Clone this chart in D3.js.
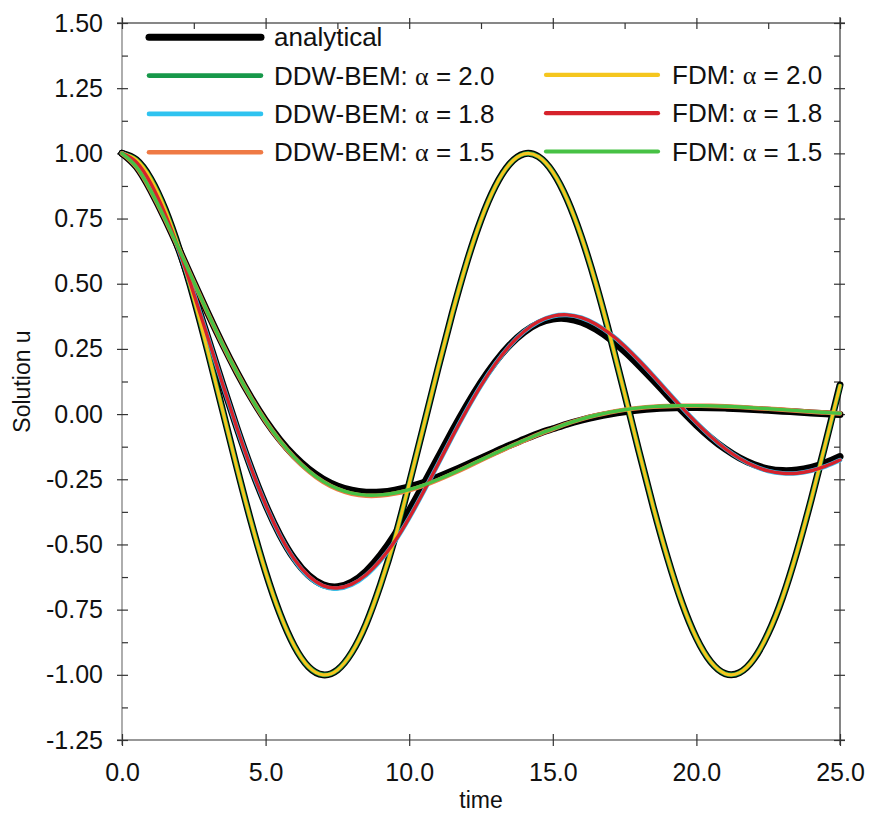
<!DOCTYPE html>
<html><head><meta charset="utf-8">
<script src="https://cdn.jsdelivr.net/npm/d3@7"></script>
<style>
body{margin:0;background:#fff}
svg{display:block}
text{font-family:"Liberation Sans",Arial,Helvetica,sans-serif;fill:#111}
</style>
</head><body>
<svg id="chart" width="869" height="819"></svg>
<script>
// ---- data ----
const times = [0,0.5,1,1.5,2,2.5,3,3.5,4,4.5,5,5.5,6,6.5,7,7.5,8,8.5,9,9.5,10,10.5,11,11.5,12,12.5,13,13.5,14,14.5,15,15.5,16,16.5,17,17.5,18,18.5,19,19.5,20,20.5,21,21.5,22,22.5,23,23.5,24,24.5,25];

const analytical20 = [1,0.9755,0.9029,0.7860,0.6305,0.4444,0.2357,0.0157,-0.2049,-0.4156,-0.6053,-0.7658,-0.8897,-0.9697,-0.9999,-0.9813,-0.9143,-0.8043,-0.6543,-0.4764,-0.2666,-0.0472,0.1740,0.3869,0.5806,0.7456,0.8740,0.9596,0.9980,0.9874,0.9282,0.8234,0.6780,0.4999,0.2963,0.0786,-0.1427,-0.3574,-0.5539,-0.7245,-0.8588,-0.9503,-0.9955,-0.9918,-0.9394,-0.8409,-0.7034,-0.5282,-0.3270,-0.1100,0.1117];
const analytical18 = [1,0.9664,0.8852,0.7680,0.6240,0.4617,0.2898,0.1160,-0.0524,-0.2086,-0.3474,-0.4639,-0.5551,-0.6189,-0.6546,-0.6626,-0.6445,-0.6026,-0.5402,-0.4611,-0.3696,-0.2697,-0.1670,-0.0645,0.0330,0.1224,0.2004,0.2650,0.3144,0.3478,0.3646,0.3658,0.3522,0.3253,0.2872,0.2401,0.1862,0.1291,0.0701,0.0123,-0.0422,-0.0915,-0.1338,-0.1680,-0.1935,-0.2099,-0.2167,-0.2146,-0.2042,-0.1863,-0.1628];
const analytical15 = [1,0.9483,0.8579,0.7482,0.6288,0.5059,0.3846,0.2685,0.1604,0.0624,-0.0244,-0.0988,-0.1609,-0.2107,-0.2486,-0.2754,-0.2920,-0.2995,-0.2989,-0.2916,-0.2788,-0.2622,-0.2415,-0.2184,-0.1938,-0.1687,-0.1438,-0.1194,-0.0969,-0.0748,-0.0563,-0.0382,-0.0230,-0.0101,0.0006,0.0092,0.0159,0.0207,0.0235,0.0251,0.0254,0.0247,0.0230,0.0207,0.0178,0.0147,0.0113,0.0078,0.0044,0.0012,-0.0019];

const ddw20 = [1,0.9755,0.9029,0.7860,0.6305,0.4444,0.2357,0.0157,-0.2049,-0.4156,-0.6053,-0.7658,-0.8897,-0.9697,-0.9999,-0.9813,-0.9143,-0.8043,-0.6543,-0.4764,-0.2666,-0.0472,0.1740,0.3869,0.5806,0.7456,0.8740,0.9596,0.9980,0.9874,0.9282,0.8234,0.6780,0.4999,0.2963,0.0786,-0.1427,-0.3574,-0.5539,-0.7245,-0.8588,-0.9503,-0.9955,-0.9918,-0.9394,-0.8409,-0.7034,-0.5282,-0.3272,-0.1115,0.1080];
const ddw18 = [1,0.9664,0.8852,0.7681,0.6241,0.4618,0.2899,0.1160,-0.0526,-0.2090,-0.3480,-0.4656,-0.5580,-0.6232,-0.6600,-0.6690,-0.6542,-0.6180,-0.5615,-0.4885,-0.3982,-0.2980,-0.1928,-0.0868,0.0151,0.1095,0.1927,0.2624,0.3166,0.3545,0.3755,0.3802,0.3695,0.3445,0.3074,0.2605,0.2057,0.1470,0.0857,0.0249,-0.0330,-0.0860,-0.1320,-0.1699,-0.1988,-0.2180,-0.2271,-0.2268,-0.2176,-0.2001,-0.1765];
const ddw15 = [1,0.9484,0.8580,0.7483,0.6289,0.5060,0.3845,0.2681,0.1597,0.0610,-0.0270,-0.1031,-0.1670,-0.2193,-0.2597,-0.2877,-0.3052,-0.3130,-0.3122,-0.3048,-0.2919,-0.2745,-0.2528,-0.2288,-0.2032,-0.1769,-0.1508,-0.1252,-0.1015,-0.0778,-0.0574,-0.0368,-0.0193,-0.0047,0.0073,0.0165,0.0236,0.0282,0.0307,0.0320,0.0321,0.0314,0.0297,0.0269,0.0235,0.0204,0.0170,0.0130,0.0091,0.0059,0.0028];

const fdm20 = [1,0.9755,0.9029,0.7860,0.6305,0.4444,0.2357,0.0157,-0.2049,-0.4156,-0.6053,-0.7658,-0.8897,-0.9697,-0.9999,-0.9813,-0.9143,-0.8043,-0.6543,-0.4764,-0.2666,-0.0472,0.1740,0.3869,0.5806,0.7456,0.8740,0.9596,0.9980,0.9874,0.9282,0.8234,0.6780,0.4999,0.2963,0.0786,-0.1427,-0.3574,-0.5539,-0.7245,-0.8588,-0.9503,-0.9955,-0.9918,-0.9394,-0.8409,-0.7034,-0.5282,-0.3271,-0.1108,0.1095];
const fdm18 = [1,0.9664,0.8852,0.7680,0.6240,0.4617,0.2898,0.1160,-0.0524,-0.2086,-0.3474,-0.4648,-0.5568,-0.6214,-0.6579,-0.6668,-0.6521,-0.6162,-0.5603,-0.4878,-0.3980,-0.2981,-0.1931,-0.0872,0.0148,0.1093,0.1926,0.2625,0.3168,0.3548,0.3759,0.3806,0.3698,0.3447,0.3075,0.2605,0.2056,0.1468,0.0854,0.0246,-0.0333,-0.0862,-0.1322,-0.1700,-0.1988,-0.2180,-0.2270,-0.2267,-0.2174,-0.1999,-0.1762];
const fdm15 = [1,0.9484,0.8580,0.7483,0.6289,0.5060,0.3846,0.2683,0.1600,0.0614,-0.0264,-0.1023,-0.1659,-0.2179,-0.2580,-0.2857,-0.3030,-0.3107,-0.3099,-0.3026,-0.2898,-0.2725,-0.2510,-0.2272,-0.2018,-0.1757,-0.1498,-0.1244,-0.1009,-0.0773,-0.0570,-0.0365,-0.0190,-0.0044,0.0076,0.0168,0.0239,0.0285,0.0310,0.0323,0.0324,0.0317,0.0300,0.0272,0.0238,0.0207,0.0173,0.0133,0.0094,0.0062,0.0031];

const yTickValues = [-1.25,-1.00,-0.75,-0.50,-0.25,0.00,0.25,0.50,0.75,1.00,1.25,1.50];
const yMinorValues = [-1.125,-0.875,-0.625,-0.375,-0.125,0.125,0.375,0.625,0.875,1.125,1.375];
const xTickValues = [0,5,10,15,20,25];
const xMinorValues = [2.5,7.5,12.5,17.5,22.5];

const legendLeft = ["analytical","DDW-BEM: α = 2.0","DDW-BEM: α = 1.8","DDW-BEM: α = 1.5"];
const legendRight = ["FDM: α = 2.0","FDM: α = 1.8","FDM: α = 1.5"];
const xTitle = "time";
const yTitle = "Solution u";

// ---- drawing ----
const svg = d3.select("#chart");
const x = d3.scaleLinear().domain([0,25]).range([122,840]);
const y = d3.scaleLinear().domain([-1.25,1.5]).range([740,23]);

const COL = {ana:"#000000", ddw20:"#17984a", ddw18:"#2fc3f0", ddw15:"#ef7a45",
             fdm20:"#f5c61e", fdm18:"#d6222b", fdm15:"#47c144"};

// axis lines
const axisCol = "#333";
svg.append("line").attr("x1",117).attr("x2",845).attr("y1",y(1.5)).attr("y2",y(1.5)).attr("stroke","#111").attr("stroke-width",1.2);
svg.append("line").attr("x1",117).attr("x2",845).attr("y1",y(-1.25)).attr("y2",y(-1.25)).attr("stroke",axisCol).attr("stroke-width",1.2);
svg.append("line").attr("x1",x(0)).attr("x2",x(0)).attr("y1",17).attr("y2",745).attr("stroke","#777").attr("stroke-width",1.2);
svg.append("line").attr("x1",x(25)).attr("x2",x(25)).attr("y1",17).attr("y2",745).attr("stroke",axisCol).attr("stroke-width",1.2);

function styleAxis(g){
  g.select(".domain").remove();
  g.selectAll(".tick line").attr("stroke",axisCol).attr("stroke-width",1.2);
  g.selectAll(".tick text").attr("font-size",25).attr("fill","#111")
    .attr("font-family",'"Liberation Sans",Arial,sans-serif');
}
const fmtY = d => d.toFixed(2);
const fmtX = d => d.toFixed(1);

// left
svg.append("g").attr("transform",`translate(${x(0)},0)`)
  .call(d3.axisLeft(y).tickValues(yTickValues).tickSize(5).tickPadding(14).tickFormat(fmtY)).call(styleAxis);
svg.append("g").attr("transform",`translate(${x(0)},0)`)
  .call(d3.axisRight(y).tickValues(yTickValues.concat(yMinorValues)).tickSize(6).tickFormat("")).call(styleAxis);
// right
svg.append("g").attr("transform",`translate(${x(25)},0)`)
  .call(d3.axisRight(y).tickValues(yTickValues).tickSize(5).tickFormat("")).call(styleAxis);
svg.append("g").attr("transform",`translate(${x(25)},0)`)
  .call(d3.axisLeft(y).tickValues(yTickValues.concat(yMinorValues)).tickSize(6).tickFormat("")).call(styleAxis);
// bottom
svg.append("g").attr("transform",`translate(0,${y(-1.25)})`)
  .call(d3.axisBottom(x).tickValues(xTickValues).tickSize(6).tickPadding(17).tickFormat(fmtX)).call(styleAxis);
svg.append("g").attr("transform",`translate(0,${y(-1.25)})`)
  .call(d3.axisTop(x).tickValues(xTickValues).tickSize(6).tickFormat("")).call(styleAxis);
// top
svg.append("g").attr("transform",`translate(0,${y(1.5)})`)
  .call(d3.axisTop(x).tickValues(xTickValues).tickSize(5).tickFormat("")).call(styleAxis);
svg.append("g").attr("transform",`translate(0,${y(1.5)})`)
  .call(d3.axisBottom(x).tickValues(xTickValues.concat(xMinorValues)).tickSize(6).tickFormat("")).call(styleAxis);

// titles
svg.append("text").attr("x",(x(0)+x(25))/2).attr("y",808).attr("text-anchor","middle")
  .attr("font-size",23).text(xTitle);
svg.append("text").attr("transform",`translate(30,${(y(1.5)+y(-1.25))/2}) rotate(-90)`)
  .attr("text-anchor","middle").attr("font-size",23).text(yTitle);

// curves
const line = d3.line().x((d,i)=>x(times[i])).y(d=>y(d)).curve(d3.curveNatural);
const series = [
  {v:analytical20,c:COL.ana,w:7},{v:analytical18,c:COL.ana,w:7},{v:analytical15,c:COL.ana,w:7},
  {v:ddw20,c:COL.ddw20,w:4.6},{v:ddw18,c:COL.ddw18,w:4.6},{v:ddw15,c:COL.ddw15,w:4.6},
  {v:fdm20,c:COL.fdm20,w:3.2},{v:fdm18,c:COL.fdm18,w:3.4},{v:fdm15,c:COL.fdm15,w:3.4}
];
svg.append("g").selectAll("path").data(series).join("path")
  .attr("d",s=>line(s.v)).attr("fill","none").attr("stroke",s=>s.c)
  .attr("stroke-width",s=>s.w).attr("stroke-linecap","round").attr("stroke-linejoin","round");

// legend
function legendText(sel){
  sel.each(function(t){
    const el = d3.select(this);
    const parts = t.split("α");
    el.append("tspan").text(parts[0]);
    if(parts.length>1){
      el.append("tspan").attr("font-family",'"Liberation Serif","Times New Roman",serif').text("α");
      el.append("tspan").text(parts[1]);
    }
  });
}
const leftCols = [COL.ana,COL.ddw20,COL.ddw18,COL.ddw15];
const leftW = [7,4.6,4.6,4.6];
const rowY = i => 37.3 + i*38.3;
const gl = svg.append("g");
gl.selectAll("line").data(legendLeft).join("line")
  .attr("x1",149).attr("x2",261).attr("y1",(d,i)=>rowY(i)).attr("y2",(d,i)=>rowY(i))
  .attr("stroke",(d,i)=>leftCols[i]).attr("stroke-width",(d,i)=>leftW[i]).attr("stroke-linecap","round");
gl.selectAll("text").data(legendLeft).join("text")
  .attr("x",274).attr("y",(d,i)=>rowY(i)+9).attr("font-size",26).call(legendText);

const rightCols = [COL.fdm20,COL.fdm18,COL.fdm15];
const gr = svg.append("g");
gr.selectAll("line").data(legendRight).join("line")
  .attr("x1",546).attr("x2",658).attr("y1",(d,i)=>rowY(i+1)-0.7).attr("y2",(d,i)=>rowY(i+1)-0.7)
  .attr("stroke",(d,i)=>rightCols[i]).attr("stroke-width",4.2).attr("stroke-linecap","round");
gr.selectAll("text").data(legendRight).join("text")
  .attr("x",672).attr("y",(d,i)=>rowY(i+1)+8.3).attr("font-size",26).call(legendText);
</script>
</body></html>
